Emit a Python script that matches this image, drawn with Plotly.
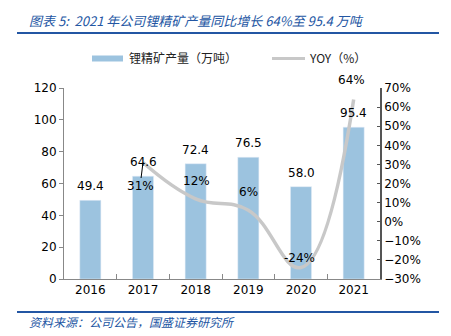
import plotly.graph_objects as go

years = ["2016", "2017", "2018", "2019", "2020", "2021"]
output_wt = [49.4, 64.6, 72.4, 76.5, 58.0, 95.4]          # 锂精矿产量（万吨）
yoy_years = ["2017", "2018", "2019", "2020", "2021"]
yoy_pct = [31, 12, 6, -24, 64]                           # YOY（%）

BAR_COLOR = "#9cc3df"
LINE_COLOR = "#c8c8c8"
BLUE = "#2356a3"
TXT_FONT = "DejaVu Sans, Verdana, sans-serif"
CJK_FONT = "Noto Sans CJK SC, sans-serif"

fig = go.Figure()
fig.add_trace(go.Bar(
    x=years, y=output_wt, marker_color=BAR_COLOR, width=0.4,
    showlegend=False, hoverinfo="skip",
))
fig.add_trace(go.Scatter(
    x=yoy_years, y=yoy_pct, yaxis="y2", mode="lines",
    line=dict(color=LINE_COLOR, width=3.5, shape="spline", smoothing=1.2),
    showlegend=False, hoverinfo="skip",
))

ann = []
# value labels above bars (category index as x position)
for i, v in enumerate(output_wt):
    ann.append(dict(x=i, y=v, xref="x", yref="y", text=f"{v:.1f}",
                    showarrow=False, yshift=14,
                    font=dict(family=TXT_FONT, size=12, color="#000")))
# YOY labels
yoy_offsets = {"2017": (-3, -24), "2018": (1, 18), "2019": (0, 18),
               "2020": (-2, 10), "2021": (-2, 19)}
for yr, p in zip(yoy_years, yoy_pct):
    i = years.index(yr)
    dx, dy = yoy_offsets[yr]
    if yr == "2017":
        ann.append(dict(x=i, y=p, xref="x", yref="y2", text=f"{p}%",
                        showarrow=True, arrowhead=0, arrowwidth=1,
                        arrowcolor="#000", ax=dx, ay=-dy, standoff=0,
                        font=dict(family=TXT_FONT, size=12, color="#000")))
    else:
        ann.append(dict(x=i, y=p, xref="x", yref="y2", text=f"{p}%",
                        showarrow=False, xshift=dx, yshift=dy,
                        font=dict(family=TXT_FONT, size=12, color="#000")))

# title, legend and source text
ann.append(dict(x=27, y=20, xref="paper", yref="paper", text="图表 5:  2021 年公司锂精矿产量同比增长 64%至 95.4 万吨",
                showarrow=False, xanchor="left", yanchor="middle",
                font=dict(family=CJK_FONT, size=13, color=BLUE, style="italic")))
ann.append(dict(x=127, y=58, xref="paper", yref="paper", text="锂精矿产量（万吨）",
                showarrow=False, xanchor="left", yanchor="middle",
                font=dict(family=CJK_FONT, size=12, color="#222")))
ann.append(dict(x=307, y=58, xref="paper", yref="paper", text="YOY（%）",
                showarrow=False, xanchor="left", yanchor="middle",
                font=dict(family=CJK_FONT, size=12, color="#222")))
ann.append(dict(x=27, y=321, xref="paper", yref="paper", text="资料来源：公司公告，国盛证券研究所",
                showarrow=False, xanchor="left", yanchor="middle",
                font=dict(family=CJK_FONT, size=12, color=BLUE, style="italic")))

W, H = 451, 336
L, R, T, B = 64, 71, 88, 57
pw, ph = W - L - R, H - T - B

def px(x):
    return (x - L) / pw

def py(y):
    return 1 - (y - T) / ph

for a in ann:
    if a["xref"] == "paper":
        a["x"] = px(a["x"])
        a["y"] = py(a["y"])

shapes = [
    dict(type="line", xref="paper", yref="paper", x0=px(17), x1=px(439),
         y0=py(33), y1=py(33), line=dict(color=BLUE, width=2)),
    dict(type="line", xref="paper", yref="paper", x0=px(17), x1=px(439),
         y0=py(312), y1=py(312), line=dict(color=BLUE, width=2)),
    dict(type="rect", xref="paper", yref="paper", x0=px(92), x1=px(123),
         y0=py(61.5), y1=py(55.5), fillcolor=BAR_COLOR, line=dict(width=0)),
    dict(type="line", xref="paper", yref="paper", x0=px(272), x1=px(305),
         y0=py(58.5), y1=py(58.5), line=dict(color=LINE_COLOR, width=3)),
]

fig.update_layout(
    width=W, height=H, margin=dict(l=L, r=R, t=T, b=B),
    paper_bgcolor="white", plot_bgcolor="white",
    annotations=ann, shapes=shapes, showlegend=False,
    xaxis=dict(type="category", showline=True, linecolor="#888", linewidth=1,
               ticks="inside", ticklen=5, tickcolor="#888", tickson="boundaries",
               tickfont=dict(family=TXT_FONT, size=12, color="#000"),
               showgrid=False, range=[-0.5, 5.5]),
    yaxis=dict(range=[0, 120], dtick=20, showline=True, linecolor="#888",
               ticks="outside", ticklen=4, tickcolor="#888", showgrid=False,
               zeroline=False,
               tickfont=dict(family=TXT_FONT, size=12, color="#000")),
    yaxis2=dict(range=[-30, 70], dtick=10, overlaying="y", side="right",
                showline=True, linecolor="#555", linewidth=1.5, ticks="inside",
                ticklen=3, tickcolor="#555", showgrid=False, zeroline=False,
                ticksuffix="%",
                tickfont=dict(family=TXT_FONT, size=12, color="#000")),
)

fig.write_html("out.html")
